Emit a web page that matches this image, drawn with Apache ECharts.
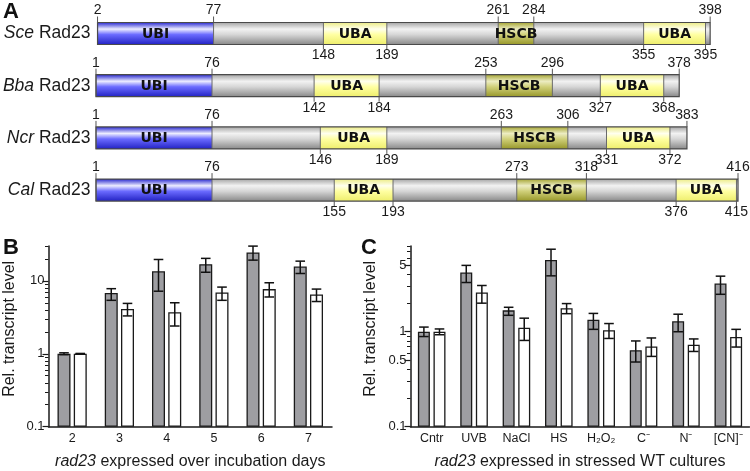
<!DOCTYPE html>
<html><head><meta charset="utf-8">
<script src="https://cdn.jsdelivr.net/npm/echarts@6/dist/echarts.min.js"></script>
<style>html,body{margin:0;padding:0;background:#fff}#c{width:750px;height:471px}</style>
</head><body><div id="c"></div>
<script>
// ---------- Panel A data (residue numbers) ----------
const proteins = ['Sce', 'Bba', 'Ncr', 'Cal'];
const protStart = [2, 1, 1, 1];
const protEnd = [398, 378, 383, 416];
const ubiDom = [[2, 77], [1, 76], [1, 76], [1, 76]];
const uba1Dom = [[148, 189], [142, 184], [146, 189], [155, 193]];
const hscbDom = [[261, 284], [253, 296], [263, 306], [273, 318]];
const uba2Dom = [[355, 395], [327, 368], [331, 372], [376, 415]];

// ---------- Panel B data ----------
const daysB = ['2', '3', '4', '5', '6', '7'];
const grayB = [1.0, 6.8, 13.5, 16.9, 24.5, 15.7];
const grayBHi = [1.03, 7.8, 19.6, 20.3, 29.9, 18.6];
const grayBLo = [0.97, 5.4, 7.2, 13.1, 19.2, 12.6];
const whiteB = [1.0, 4.1, 3.7, 6.9, 7.7, 6.5];
const whiteBHi = [1.01, 4.9, 5.0, 8.2, 9.4, 7.7];
const whiteBLo = [0.99, 3.3, 2.4, 5.4, 6.0, 5.2];
const majorTicksB = [0.1, 1, 10];
const minorTicksB = [0.2, 0.3, 0.4, 0.5, 0.6, 0.7, 0.8, 0.9, 2, 3, 4, 5, 6, 7, 8, 9, 20, 30];

// ---------- Panel C data ----------
const condC = ['Cntr', 'UVB', 'NaCl', 'HS', 'H₂O₂', 'C⁻', 'N⁻', '[CN]⁻'];
const grayC = [1.0, 4.2, 1.68, 5.7, 1.34, 0.64, 1.29, 3.22];
const grayCHi = [1.12, 5.0, 1.81, 7.4, 1.56, 0.80, 1.53, 3.85];
const grayCLo = [0.89, 3.3, 1.49, 3.88, 1.06, 0.48, 1.0, 2.48];
const whiteC = [1.0, 2.59, 1.1, 1.77, 1.04, 0.70, 0.73, 0.88];
const whiteCHi = [1.07, 3.07, 1.39, 1.98, 1.22, 0.86, 0.84, 1.06];
const whiteCLo = [0.93, 2.0, 0.81, 1.55, 0.85, 0.55, 0.62, 0.69];
const majorTicksC = [0.1, 0.5, 1, 5];
const minorTicksC = [0.2, 0.3, 0.4, 0.6, 0.7, 0.8, 0.9, 2, 3, 4, 6, 7, 8];

// ---------- styles ----------
const FONT = '"Liberation Sans", Arial, sans-serif';
const INK = '#1a1a1a';
const gradV = stops => ({type: 'linear', x: 0, y: 0, x2: 0, y2: 1, colorStops: stops.map(([o, c]) => ({offset: o, color: c}))});
const GRAY_G = gradV([[0, '#a6a6a6'], [0.3, '#f2f2f2'], [0.55, '#d6d6d6'], [1, '#8a8a8a']]);
const UBI_G = gradV([[0, '#2a2ad0'], [0.3, '#ececff'], [0.55, '#6b6bff'], [1, '#2323c4']]);
const UBA_G = gradV([[0, '#ecec86'], [0.3, '#ffffee'], [0.55, '#ffffa2'], [1, '#eeee6c']]);
const HSCB_G = gradV([[0, '#a6a636'], [0.3, '#ececc2'], [0.55, '#d0d07a'], [1, '#98982a']]);

function renderProtein(params, api) {
  const r = api.value(1);
  const h = 22;
  const cy = api.coord([0, r])[1];
  const top = cy - h / 2, bot = cy + h / 2;
  const X = v => api.coord([v, r])[0];
  const ch = [];
  const x0 = X(protStart[r]), x1 = X(protEnd[r]);
  ch.push({type: 'rect', shape: {x: x0, y: top, width: x1 - x0, height: h}, style: {fill: GRAY_G}});
  const doms = [[ubiDom[r], UBI_G, 'UBI'], [uba1Dom[r], UBA_G, 'UBA'], [hscbDom[r], HSCB_G, 'HSCB'], [uba2Dom[r], UBA_G, 'UBA']];
  doms.forEach(([d, g, name]) => {
    const a = X(d[0]), b = X(d[1]);
    ch.push({type: 'rect', shape: {x: a, y: top, width: b - a, height: h}, style: {fill: g}});
    ch.push({type: 'line', shape: {x1: a, y1: top, x2: a, y2: bot}, style: {stroke: '#6a6a6a', lineWidth: 1}});
    ch.push({type: 'line', shape: {x1: b, y1: top, x2: b, y2: bot}, style: {stroke: '#6a6a6a', lineWidth: 1}});
    ch.push({type: 'text', style: {text: name, x: (a + b) / 2, y: cy + 0.5, align: 'center', verticalAlign: 'middle',
      fontFamily: '"DejaVu Sans", Verdana, sans-serif', fontWeight: 'bold', fontSize: 14, fill: '#111'}});
  });
  ch.push({type: 'rect', shape: {x: x0, y: top, width: x1 - x0, height: h}, style: {fill: 'none', stroke: '#4a4a4a', lineWidth: 1.2}});
  const above = [protStart[r], ubiDom[r][1], hscbDom[r][0], hscbDom[r][1], protEnd[r]];
  const below = [uba1Dom[r][0], uba1Dom[r][1], uba2Dom[r][0], uba2Dom[r][1]];
  above.forEach(v => {
    const x = X(v);
    ch.push({type: 'line', shape: {x1: x, y1: top, x2: x, y2: top - 6}, style: {stroke: '#555', lineWidth: 1}});
    ch.push({type: 'text', style: {text: String(v), x: x, y: top - 12, align: 'center', verticalAlign: 'middle', fontFamily: FONT, fontSize: 14, fill: INK}});
  });
  below.forEach(v => {
    const x = X(v);
    ch.push({type: 'line', shape: {x1: x, y1: bot, x2: x, y2: bot + 5}, style: {stroke: '#555', lineWidth: 1}});
    ch.push({type: 'text', style: {text: String(v), x: x, y: bot + 11, align: 'center', verticalAlign: 'middle', fontFamily: FONT, fontSize: 14, fill: INK}});
  });
  ch.push({type: 'text', style: {text: '{i|' + proteins[r] + '} Rad23', x: X(0) - 4, y: cy, align: 'right', verticalAlign: 'middle',
    fontFamily: FONT, fontSize: 17.5, fill: INK,
    rich: {i: {fontFamily: FONT, fontSize: 17.5, fontStyle: 'italic', fill: INK}}}});
  return {type: 'group', children: ch};
}

function errRender(offset) {
  return function (params, api) {
    const c = api.value(0);
    const hi = api.coord([c, api.value(2)]);
    const lo = api.coord([c, api.value(1)]);
    const x = hi[0] + offset, w = 4.8;
    const st = {stroke: '#111', lineWidth: 1.5};
    return {type: 'group', children: [
      {type: 'line', shape: {x1: x, y1: hi[1], x2: x, y2: lo[1]}, style: st},
      {type: 'line', shape: {x1: x - w, y1: hi[1], x2: x + w, y2: hi[1]}, style: st},
      {type: 'line', shape: {x1: x - w, y1: lo[1], x2: x + w, y2: lo[1]}, style: st}
    ]};
  };
}

const axisLineSt = {color: INK, width: 1.5};
function logAxisMain(grid, max, major, nameGap) {
  return {gridIndex: grid, type: 'log', logBase: 10, min: 0.1, max: max, startValue: 0.1,
    axisLine: {show: true, lineStyle: axisLineSt},
    axisTick: {show: true, length: 6, customValues: major, lineStyle: {color: INK, width: 1.2}},
    axisLabel: {customValues: major, fontSize: 13, color: INK, fontFamily: FONT, margin: 4, formatter: v => String(+v.toPrecision(3))},
    splitLine: {show: false},
    name: 'Rel. transcript level', nameLocation: 'middle', nameGap: nameGap,
    nameTextStyle: {fontSize: 16, color: INK, fontFamily: FONT, padding: [0, 0, 0, 15]}};
}
function logAxisMinor(grid, max, minor) {
  return {gridIndex: grid, type: 'log', logBase: 10, min: 0.1, max: max, position: 'left', offset: 0,
    axisLine: {show: false}, axisLabel: {show: false}, splitLine: {show: false},
    axisTick: {show: true, length: 3.5, customValues: minor, lineStyle: {color: INK, width: 1}}};
}
function catAxis(grid, data, name) {
  return {gridIndex: grid, type: 'category', data: data,
    axisTick: {show: false}, axisLine: {lineStyle: axisLineSt},
    axisLabel: {fontSize: 12.5, color: INK, fontFamily: FONT, margin: 5, interval: 0},
    name: name, nameLocation: 'middle', nameGap: 27,
    nameTextStyle: {fontSize: 16, color: INK, fontFamily: FONT,
      rich: {i: {fontSize: 16, fontStyle: 'italic', color: INK, fontFamily: FONT}}}};
}

const barStyleGray = {color: '#9e9ea2', borderColor: INK, borderWidth: 1.3};
const barStyleWhite = {color: '#ffffff', borderColor: INK, borderWidth: 1.3};

const option = {
  animation: false,
  backgroundColor: '#fff',
  grid: [
    {left: 94.45, top: 7.4, width: 649.74, height: 208.8},
    {left: 48.5, top: 246, width: 283.5, height: 180.7},
    {left: 410.5, top: 246, width: 339, height: 180.7}
  ],
  xAxis: [
    {gridIndex: 0, type: 'value', min: 0, max: 420, show: false},
    catAxis(1, daysB, '{i|rad23} expressed over incubation days'),
    catAxis(2, condC, '{i|rad23} expressed in stressed WT cultures')
  ],
  yAxis: [
    {gridIndex: 0, type: 'category', data: proteins, inverse: true, show: false},
    logAxisMain(1, 30, majorTicksB, 31),
    logAxisMinor(1, 30, minorTicksB),
    logAxisMain(2, 8, majorTicksC, 32),
    logAxisMinor(2, 8, minorTicksC)
  ],
  graphic: [
    {type: 'text', left: 3, top: 1, style: {text: 'A', font: 'bold 22px "Liberation Sans", Arial', fill: '#111'}},
    {type: 'text', left: 3, top: 237, style: {text: 'B', font: 'bold 22px "Liberation Sans", Arial', fill: '#111'}},
    {type: 'text', left: 361, top: 237, style: {text: 'C', font: 'bold 22px "Liberation Sans", Arial', fill: '#111'}}
  ],
  series: [
    {type: 'custom', xAxisIndex: 0, yAxisIndex: 0, renderItem: renderProtein,
      data: proteins.map((p, i) => [protStart[i], i, protEnd[i]]), encode: {x: [0, 2], y: 1}},
    {type: 'bar', xAxisIndex: 1, yAxisIndex: 1, data: grayB, barWidth: 13, barGap: '25%', itemStyle: barStyleGray},
    {type: 'bar', xAxisIndex: 1, yAxisIndex: 1, data: whiteB, barWidth: 13, barGap: '25%', itemStyle: barStyleWhite},
    {type: 'custom', xAxisIndex: 1, yAxisIndex: 1, z: 5, renderItem: errRender(-8.125),
      data: daysB.map((d, i) => [i, grayBLo[i], grayBHi[i]]), encode: {x: 0, y: [1, 2]}},
    {type: 'custom', xAxisIndex: 1, yAxisIndex: 1, z: 5, renderItem: errRender(8.125),
      data: daysB.map((d, i) => [i, whiteBLo[i], whiteBHi[i]]), encode: {x: 0, y: [1, 2]}},
    {type: 'bar', xAxisIndex: 2, yAxisIndex: 3, data: grayC, barWidth: 12, barGap: '30%', itemStyle: barStyleGray},
    {type: 'bar', xAxisIndex: 2, yAxisIndex: 3, data: whiteC, barWidth: 12, barGap: '30%', itemStyle: barStyleWhite},
    {type: 'custom', xAxisIndex: 2, yAxisIndex: 3, z: 5, renderItem: errRender(-7.8),
      data: condC.map((d, i) => [i, grayCLo[i], grayCHi[i]]), encode: {x: 0, y: [1, 2]}},
    {type: 'custom', xAxisIndex: 2, yAxisIndex: 3, z: 5, renderItem: errRender(7.8),
      data: condC.map((d, i) => [i, whiteCLo[i], whiteCHi[i]]), encode: {x: 0, y: [1, 2]}}
  ]
};
const chart = echarts.init(document.getElementById('c'), null, {renderer: 'canvas'});
chart.setOption(option);
</script></body></html>
